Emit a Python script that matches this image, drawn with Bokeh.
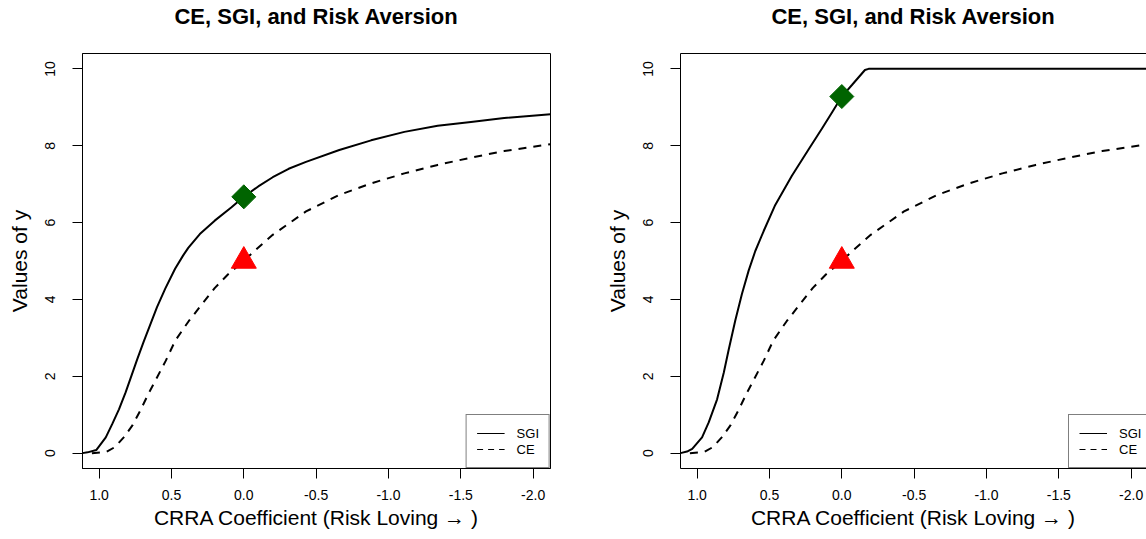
import math
from bokeh.plotting import figure
from bokeh.models import (Range1d, FixedTicker, Legend, LegendItem, LinearAxis,
                          NumeralTickFormatter, Title)
from bokeh.layouts import row
from bokeh.embed import file_html
from bokeh.resources import INLINE

# ---------------- data ----------------
title_text = "CE, SGI, and Risk Aversion"
x_label = "CRRA Coefficient (Risk Loving \u2192 )"
y_label = "Values of y"
x_ticks = [1.0, 0.5, 0.0, -0.5, -1.0, -1.5, -2.0]
y_ticks = [0, 2, 4, 6, 8, 10]
series_names = ["SGI", "CE"]

# left panel SGI
sgi_left_x = [1.115, 1.08, 1.02, 0.954, 0.909, 0.863, 0.817, 0.78, 0.737, 0.692, 0.646, 0.60, 0.543,
              0.475, 0.42, 0.384, 0.304, 0.201, 0.087, 0.0, -0.10, -0.20, -0.31, -0.43, -0.66, -0.88,
              -1.11, -1.34, -1.57, -1.80, -2.12]
sgi_left_y = [0.0, 0.02, 0.08, 0.41, 0.76, 1.14, 1.58, 1.98, 2.44, 2.90, 3.35, 3.80, 4.28,
              4.80, 5.14, 5.34, 5.70, 6.05, 6.39, 6.67, 6.94, 7.18, 7.40, 7.58, 7.89, 8.14,
              8.36, 8.52, 8.62, 8.72, 8.82]

# right panel SGI
sgi_right_x = [1.115, 1.07, 1.034, 0.966, 0.92, 0.862, 0.816, 0.782, 0.736, 0.69, 0.644, 0.598, 0.54,
               0.46, 0.345, 0.23, 0.138, 0.069, 0.0, -0.07, -0.16, -0.185, -2.12]
sgi_right_y = [0.0, 0.04, 0.11, 0.41, 0.80, 1.40, 2.09, 2.69, 3.46, 4.15, 4.75, 5.26, 5.78,
               6.46, 7.22, 7.90, 8.44, 8.86, 9.28, 9.58, 9.97, 10.0, 10.0]

# CE (same in both panels)
ce_x = [1.05, 0.95, 0.89, 0.83, 0.77, 0.715, 0.66, 0.60, 0.54, 0.475, 0.38, 0.29, 0.20, 0.11, 0.0,
        -0.07, -0.20, -0.43, -0.66, -0.88, -1.11, -1.34, -1.57, -1.80, -2.12]
ce_y = [0.0, 0.03, 0.16, 0.41, 0.72, 1.11, 1.54, 1.97, 2.40, 2.92, 3.44, 3.87, 4.30, 4.65, 5.0,
        5.25, 5.68, 6.29, 6.72, 7.02, 7.28, 7.50, 7.69, 7.86, 8.04]

# highlighted points at risk neutrality
marker_x = [0.0]
sgi_point_left = [6.67]
sgi_point_right = [9.28]
ce_point = [5.0]

FONT = "Liberation Sans"


def make_fig(width, border_right, x_end, sgi_x, sgi_y, sgi_pt, cut_right):
    p = figure(width=width, height=539,
               x_range=Range1d(1.115, x_end), y_range=Range1d(-0.4, 10.4),
               output_backend="svg", toolbar_location=None,
               min_border_left=82, min_border_right=border_right,
               min_border_top=53, min_border_bottom=71,
               background_fill_color="white", border_fill_color="white")
    p.grid.visible = False
    p.extra_y_ranges = {"legend_proxy": Range1d(1000, 1100)}

    p.title.text = title_text
    p.title.align = "center"
    p.title.text_font = FONT
    p.title.text_font_size = "22px"
    p.title.text_font_style = "bold"
    p.title.text_color = "black"
    p.title.standoff = 0
    if not cut_right:
        p.title.offset = 0

    p.xaxis.ticker = FixedTicker(ticks=x_ticks)
    p.yaxis.ticker = FixedTicker(ticks=y_ticks)
    p.xaxis.formatter = NumeralTickFormatter(format="0.0")
    p.yaxis.formatter = NumeralTickFormatter(format="0")
    for ax in (p.xaxis, p.yaxis):
        ax.axis_line_color = "black"
        ax.axis_line_width = 1
        ax.major_tick_line_color = "black"
        ax.major_tick_out = 10
        ax.major_tick_in = 0
        ax.minor_tick_line_color = None
        ax.major_label_text_font = FONT
        ax.major_label_text_font_size = "14px"
        ax.major_label_text_color = "black"
        ax.axis_label_text_font = FONT
        ax.axis_label_text_font_size = "21px"
        ax.axis_label_text_font_style = "normal"
        ax.axis_label_text_color = "black"
    p.xaxis.axis_label = x_label
    p.yaxis.axis_label = y_label
    p.xaxis.major_label_standoff = 11
    p.xaxis.axis_label_standoff = 3
    p.yaxis.major_label_orientation = "parallel"
    p.yaxis.major_label_standoff = 17
    p.yaxis.axis_label_standoff = 12

    if cut_right:
        p.outline_line_color = None
        top = LinearAxis(major_tick_line_color=None, minor_tick_line_color=None,
                         major_label_text_font_size="0px", axis_line_color="black",
                         axis_line_width=1, major_tick_out=0, major_tick_in=0,
                         minor_tick_out=0, minor_tick_in=0, major_label_standoff=0,
                         ticker=FixedTicker(ticks=[]))
        p.add_layout(top, "above")
    else:
        p.outline_line_color = "black"
        p.outline_line_width = 1

    # spacer between the frame and the title (keeps the title near the top edge)
    spacer = Title(text="\u00a0", text_font=FONT, text_font_size="1px", standoff=22)
    p.add_layout(spacer, "above")

    p.line(sgi_x, sgi_y, line_color="black", line_width=2)
    p.line(ce_x, ce_y, line_color="black", line_width=2, line_dash="8 7")
    p.scatter(marker_x, sgi_pt, marker="square", angle=math.pi / 4, size=17,
              fill_color="#006400", line_color="#006400")
    p.scatter(marker_x, ce_point, marker="triangle", size=25,
              fill_color="#FF0000", line_color="#FF0000")

    # legend proxies: thin lines of the same series on an off-screen range
    r_sgi = p.line(sgi_x, sgi_y, line_color="black", line_width=1, y_range_name="legend_proxy")
    r_ce = p.line(ce_x, ce_y, line_color="black", line_width=1, line_dash="6 5",
                  y_range_name="legend_proxy")
    loc = "bottom_right" if not cut_right else (width - 82 - border_right - 81 + 3, 0)
    legend = Legend(items=[LegendItem(label=series_names[0], renderers=[r_sgi]),
                           LegendItem(label=series_names[1], renderers=[r_ce])],
                    location=loc, margin=0, padding=10, spacing=0,
                    glyph_width=28, glyph_height=16, label_height=16, label_width=20,
                    label_standoff=12, label_text_font=FONT, label_text_font_size="13px",
                    label_text_color="black", border_line_color="black", border_line_width=1,
                    background_fill_color="white", background_fill_alpha=1.0)
    p.add_layout(legend, "center")
    return p


p1 = make_fig(598, 48, -2.12, sgi_left_x, sgi_left_y, sgi_point_left, False)
p2 = make_fig(548, 0, 1.115 - 466 * 3.235 / 468, sgi_right_x, sgi_right_y, sgi_point_right, True)

layout = row(p1, p2)
open("out.html", "w").write(file_html(layout, INLINE))
